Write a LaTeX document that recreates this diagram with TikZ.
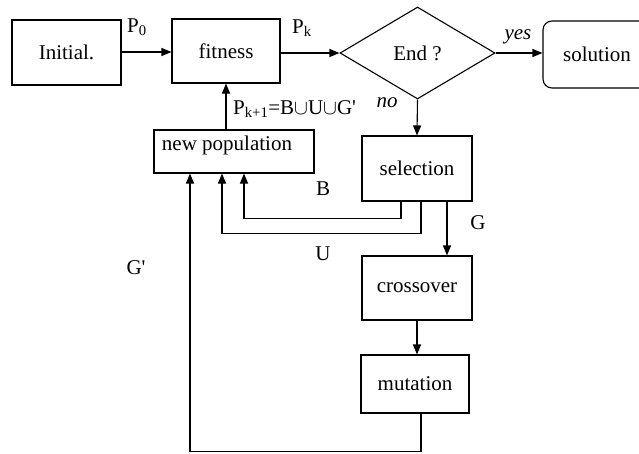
\documentclass[tikz,border=0pt]{standalone}
\usepackage{fontspec}
\setmainfont{Liberation Serif}
\usetikzlibrary{shapes.geometric,arrows.meta}
\begin{document}
\begin{tikzpicture}[x=1pt,y=-1pt,
  every node/.style={font=\fontsize{21}{25}\selectfont},
  box/.style={draw,line width=1.1pt,inner sep=0pt},
  arr/.style={line width=1.1pt,-{Triangle[length=10pt,width=8pt]}},
  ln/.style={line width=1.1pt},
  lbl/.style={inner sep=0pt}]
\useasboundingbox (0,0) rectangle (639,453);
\clip (0,0) rectangle (639,453);
\fill[white] (0,0) rectangle (639,453);
\node[box,minimum width=109pt,minimum height=65pt] (init) at (66.5,52.5) {Initial.};
\node[box,minimum width=108pt,minimum height=64pt] (fit) at (226,51) {fitness};
\node[box,diamond,minimum width=155pt,minimum height=92pt] (end) at (417.5,53) {End ?};
\node[box,rounded corners=9pt,minimum width=108pt,minimum height=67pt] (sol) at (597,54.5) {solution};
\node[box,minimum width=160pt,minimum height=43pt,
  label={[xshift=-7pt,yshift=6pt]center:new population}] (newpop) at (234,151.5) {};
\node[box,minimum width=110pt,minimum height=65pt] (sel) at (417,168.5) {selection};
\node[box,minimum width=110pt,minimum height=64pt] (cross) at (417,288) {crossover};
\node[box,minimum width=108pt,minimum height=58pt] (mut) at (415,384) {mutation};
% connectors
\draw[arr] (init.east |- 0,52) -- (fit.west |- 0,52);
\draw[arr] (fit.east |- end.west) -- (end.west);
\draw[arr] (end.east) -- (sol.west |- end.east);
\draw[arr] (end.south) -- (sel.north);
\draw[arr] (newpop.north -| fit.south) -- (fit.south);
\draw[arr] ([xshift=-16pt]sel.south) -- ++(0,17) -| ([xshift=10pt]newpop.south);
\draw[arr] ([xshift=4pt]sel.south) -- ++(0,32) -| ([xshift=-12pt]newpop.south);
\draw[arr] ([xshift=30pt]sel.south) -- ([xshift=30pt]cross.north);
\draw[arr] (cross.south) -- (cross.south |- mut.north);
\draw[arr] ([xshift=6pt]mut.south) -- ++(0,38) -| ([xshift=-44pt]newpop.south);
% labels
\node[lbl] (lp0) at (137,27) {P\textsubscript{0}};
\node[lbl] (lpk) at (302,28) {P\textsubscript{k}};
\node[lbl,anchor=west] (lpk1) at (233,109) {P\textsubscript{k+1}=B$\cup$U$\cup$G\textquotesingle};
\node[lbl] (lyes) at (518,37) {\itshape yes};
\node[lbl] (lno) at (387,103) {\itshape no};
\node[lbl] (lb) at (323,189) {B};
\node[lbl] (lg) at (478,223) {G};
\node[lbl] (lu) at (323,254) {U};
\node[lbl] (lgp) at (136,268) {G\textquotesingle};
\end{tikzpicture}
\end{document}
